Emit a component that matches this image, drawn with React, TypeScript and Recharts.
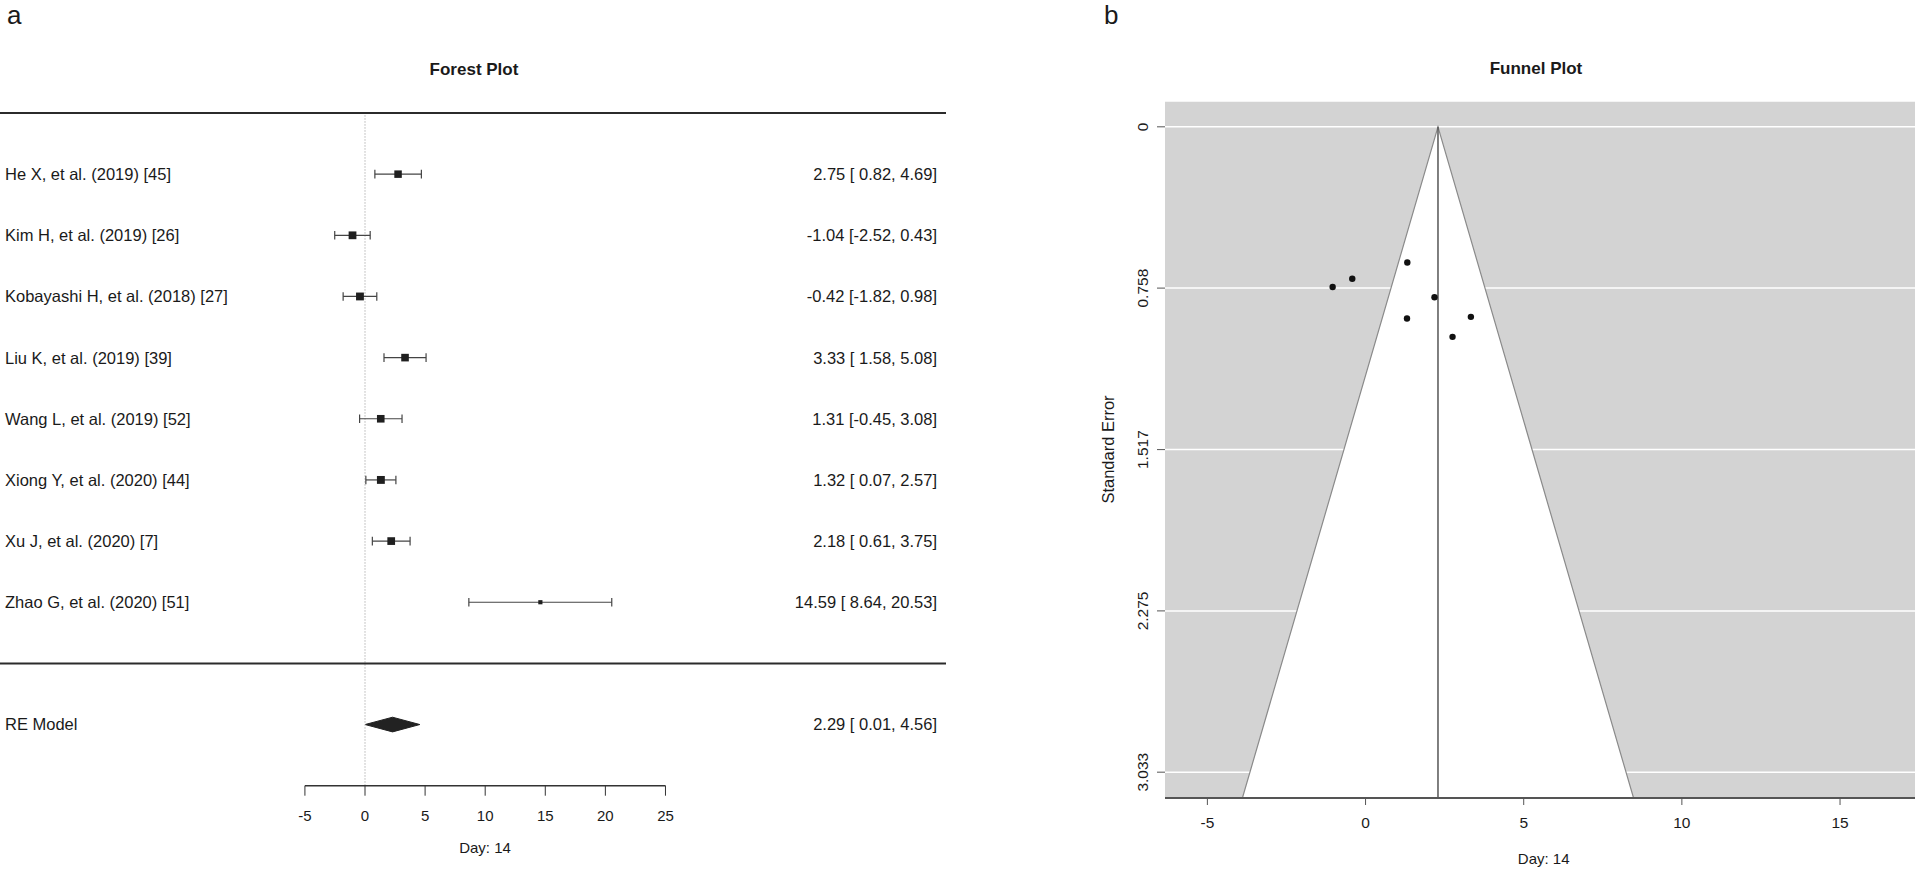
import {
  ComposedChart, Scatter, ErrorBar, Area, XAxis, YAxis, ReferenceLine, CartesianGrid,
} from 'recharts';

const FONT = '"Liberation Sans", Arial, Helvetica, sans-serif';
const INK = '#1a1a1a';

// forest plot data
const studies = [
  'He X, et al. (2019) [45]',
  'Kim H, et al. (2019) [26]',
  'Kobayashi H, et al. (2018) [27]',
  'Liu K, et al. (2019) [39]',
  'Wang L, et al. (2019) [52]',
  'Xiong Y, et al. (2020) [44]',
  'Xu J, et al. (2020) [7]',
  'Zhao G, et al. (2020) [51]',
];
const estimates = [2.75, -1.04, -0.42, 3.33, 1.31, 1.32, 2.18, 14.59];
const lower = [0.82, -2.52, -1.82, 1.58, -0.45, 0.07, 0.61, 8.64];
const upper = [4.69, 0.43, 0.98, 5.08, 3.08, 2.57, 3.75, 20.53];
// weights (%) estimated from the square sizes
const weights = [12.9, 13.4, 13.5, 13.1, 13.1, 13.6, 13.3, 7.2];
const reModel = { label: 'RE Model', est: 2.29, lb: 0.01, ub: 4.56 };
const forestTicks = [-5, 0, 5, 10, 15, 20, 25];

// funnel plot data (points as they appear)
const funnelX = [2.75, -1.04, -0.42, 3.33, 1.31, 1.32, 2.18];
const funnelSE = [0.987, 0.753, 0.714, 0.893, 0.901, 0.638, 0.801];
const funnelXTicks = [-5, 0, 5, 10, 15];
const funnelYTicks = [0, 0.758, 1.517, 2.275, 3.033];

const ciText = (e: number, l: number, u: number) =>
  `${e.toFixed(2)} [${l >= 0 ? ' ' : ''}${l.toFixed(2)}, ${u.toFixed(2)}]`;

const forestData = studies.map((name, i) => ({
  name,
  x: estimates[i],
  row: studies.length - i,
  err: [estimates[i] - lower[i], upper[i] - estimates[i]],
  w: weights[i],
}));
const reRow = -1;
const diamondHalf = 0.12;
const diamondData = [
  { x: reModel.lb, band: [reRow, reRow] },
  { x: reModel.est, band: [reRow - diamondHalf, reRow + diamondHalf] },
  { x: reModel.ub, band: [reRow, reRow] },
];
const tickRows = [...forestData.map((d) => d.row), reRow];
const leftLabel = new Map<number, string>(forestData.map((d) => [d.row, d.name]));
leftLabel.set(reRow, reModel.label);
const rightLabel = new Map<number, string>(
  forestData.map((d, i) => [d.row, ciText(estimates[i], lower[i], upper[i])])
);
rightLabel.set(reRow, ciText(reModel.est, reModel.lb, reModel.ub));

const seMax = funnelYTicks[funnelYTicks.length - 1];
const seDomain: [number, number] = [-0.04 * seMax, 1.04 * seMax];
const funnelRegion = [
  { x: reModel.est - 1.96 * seDomain[1], se: seDomain[1] },
  { x: reModel.est, se: 0 },
  { x: reModel.est + 1.96 * seDomain[1], se: seDomain[1] },
];
const funnelPoints = funnelX.map((x, i) => ({ x, se: funnelSE[i] }));

const LeftTick = (props: any) => (
  <text x={6} y={props.y} dy={5.9} fontSize={16.5} fontFamily={FONT} fill={INK}>
    {leftLabel.get(props.payload.value)}
  </text>
);
const RightTick = (props: any) => (
  <text x={938} y={props.y} dy={5.9} fontSize={16.5} fontFamily={FONT} fill={INK} textAnchor="end">
    {rightLabel.get(props.payload.value)}
  </text>
);
const Square = (props: any) => {
  const { cx, cy, payload } = props;
  const s = payload.w * 0.58;
  return <rect x={cx - s / 2} y={cy - s / 2} width={s} height={s} fill="#1f1f1f" />;
};
const SeTick = (props: any) => {
  const bx = 58;
  return (
    <text
      x={bx}
      y={props.y}
      transform={`rotate(-90 ${bx} ${props.y})`}
      textAnchor="middle"
      fontSize={15.5}
      fontFamily={FONT}
      fill={INK}
    >
      {String(props.payload.value)}
    </text>
  );
};
const Dot = (props: any) => <circle cx={props.cx} cy={props.cy} r={3.2} fill="#111" />;

export default function App() {
  return (
    <div style={{ position: 'absolute', left: 0, top: 0, width: 1915, height: 870, background: '#fff', overflow: 'hidden' }}>
      <div style={{ position: 'absolute', left: -1, top: 0 }}>
        <ComposedChart width={948} height={870} data={diamondData} margin={{ top: 113, right: 0, bottom: 54.3, left: 0 }}>
          <XAxis
            type="number"
            dataKey="x"
            domain={[-30.37, 48.34]}
            allowDataOverflow
            ticks={forestTicks}
            interval={0}
            height={30}
            axisLine={false}
            tickSize={10}
            tickMargin={15}
            tickLine={{ stroke: '#333' }}
            tick={{ fontSize: 15, fill: INK, fontFamily: FONT }}
          />
          <YAxis
            type="number"
            domain={[-2, 9]}
            allowDataOverflow
            ticks={tickRows}
            interval={0}
            width={1}
            axisLine={false}
            tickLine={false}
            tick={<LeftTick />}
          />
          <YAxis
            yAxisId="r"
            orientation="right"
            type="number"
            domain={[-2, 9]}
            allowDataOverflow
            ticks={tickRows}
            interval={0}
            width={1}
            axisLine={false}
            tickLine={false}
            tick={<RightTick />}
          />
          <ReferenceLine x={0} stroke="#b5b5b5" strokeDasharray="1.5 1.5" />
          <ReferenceLine y={9} stroke="#2b2b2b" strokeWidth={2} />
          <ReferenceLine y={0} stroke="#2b2b2b" strokeWidth={2} />
          <ReferenceLine segment={[{ x: -5, y: -2 }, { x: 25, y: -2 }]} stroke="#333" strokeWidth={1.5} />
          <Area
            dataKey="band"
            type="linear"
            fill="#222"
            fillOpacity={1}
            stroke="#222"
            strokeWidth={1}
            dot={false}
            activeDot={false}
            isAnimationActive={false}
          />
          <Scatter data={forestData} dataKey="row" shape={<Square />} isAnimationActive={false}>
            <ErrorBar dataKey="err" direction="x" width={4.3} stroke="#444" strokeWidth={1.2} />
          </Scatter>
        </ComposedChart>
      </div>

      <div style={{ position: 'absolute', left: 1090, top: 0 }}>
        <ComposedChart width={825} height={870} data={funnelRegion} margin={{ top: 101, right: 0, bottom: 42, left: 74 }}>
          <CartesianGrid vertical={false} fill="#d3d3d3" stroke="#ffffff" strokeWidth={1.5} />
          <XAxis
            type="number"
            dataKey="x"
            domain={[-6.34, 17.37]}
            allowDataOverflow
            ticks={funnelXTicks}
            interval={0}
            height={30}
            axisLine={{ stroke: '#555', strokeWidth: 2 }}
            tickSize={7}
            tickMargin={11.7}
            tickLine={{ stroke: '#555' }}
            tick={{ fontSize: 15.5, fill: INK, fontFamily: FONT }}
          />
          <YAxis
            type="number"
            reversed
            domain={seDomain}
            allowDataOverflow
            ticks={funnelYTicks}
            interval={0}
            width={1}
            axisLine={false}
            tickSize={8}
            tickLine={{ stroke: '#555' }}
            tick={<SeTick />}
          />
          <Area
            dataKey="se"
            type="linear"
            baseValue={seDomain[1]}
            fill="#ffffff"
            fillOpacity={1}
            stroke="#8a8a8a"
            strokeWidth={1.2}
            dot={false}
            activeDot={false}
            isAnimationActive={false}
          />
          <ReferenceLine
            segment={[{ x: reModel.est, y: 0 }, { x: reModel.est, y: seDomain[1] }]}
            stroke="#555"
            strokeWidth={1.5}
          />
          <Scatter data={funnelPoints} dataKey="se" shape={<Dot />} isAnimationActive={false} />
        </ComposedChart>
      </div>

      <svg width={1915} height={870} style={{ position: 'absolute', left: 0, top: 0, pointerEvents: 'none' }} fontFamily={FONT}>
        <text x={7} y={24} fontSize={26} fill={INK}>a</text>
        <text x={1104} y={24} fontSize={26} fill={INK}>b</text>
        <text x={474} y={75.3} fontSize={17} fontWeight="bold" textAnchor="middle" fill={INK}>Forest Plot</text>
        <text x={1536} y={74} fontSize={17} fontWeight="bold" textAnchor="middle" fill={INK}>Funnel Plot</text>
        <text x={485} y={852.7} fontSize={15} textAnchor="middle" fill={INK}>Day:  14</text>
        <text x={1543.7} y={864} fontSize={15} textAnchor="middle" fill={INK}>Day: 14</text>
        <text
          x={1114}
          y={449.5}
          transform="rotate(-90 1114 449.5)"
          fontSize={16.5}
          textAnchor="middle"
          fill={INK}
        >
          Standard Error
        </text>
      </svg>
    </div>
  );
}
